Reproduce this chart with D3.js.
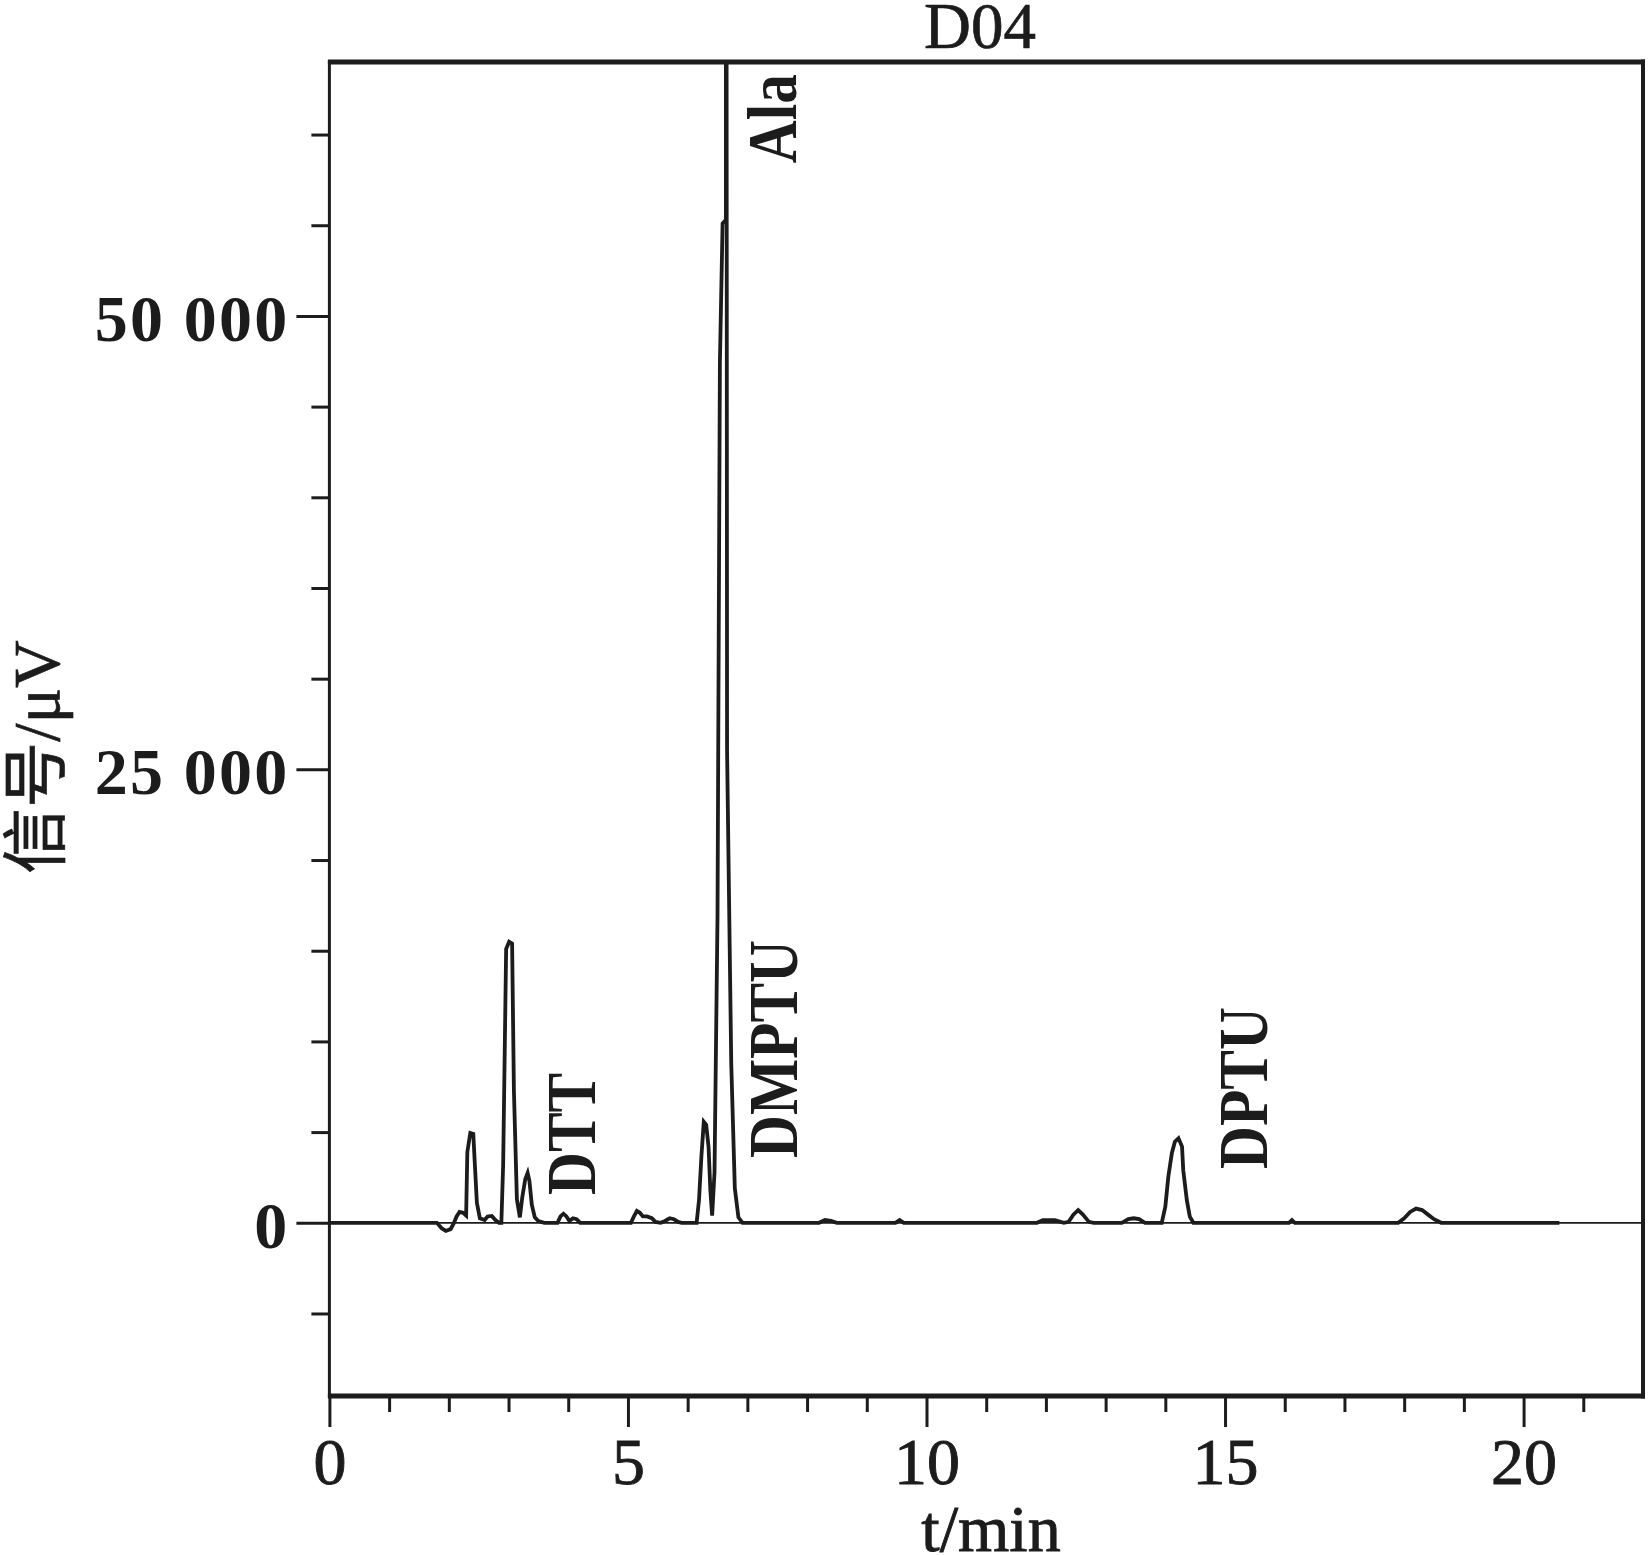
<!DOCTYPE html>
<html><head><meta charset="utf-8">
<script src="https://cdn.jsdelivr.net/npm/d3@7"></script>
<style>html,body{margin:0;padding:0;background:#fff}svg{display:block}</style>
</head><body>
<svg id="c" width="1650" height="1555"></svg>
<script>
// ---- data ----
const timeMin = [0,1.80,1.88,1.95,2.03,2.08,2.13,2.18,2.24,2.29,2.31,2.36,2.41,2.43,2.47,2.52,2.60,2.65,2.72,2.78,2.84,2.88,2.91,2.96,3.01,3.06,3.09,3.14,3.19,3.23,3.28,3.32,3.35,3.39,3.44,3.50,3.60,3.82,3.87,3.92,3.97,4.02,4.08,4.14,4.20,5.05,5.10,5.15,5.20,5.25,5.32,5.40,5.46,5.55,5.62,5.70,5.77,5.84,5.90,6.15,6.19,6.23,6.27,6.31,6.35,6.38,6.41,6.45,6.50,6.54,6.585,6.64,6.643,6.66,6.73,6.79,6.85,6.92,8.20,8.30,8.40,8.50,9.48,9.55,9.62,11.85,11.95,12.15,12.30,12.38,12.46,12.54,12.62,12.72,12.80,13.27,13.38,13.47,13.56,13.66,13.94,14.00,14.05,14.11,14.16,14.22,14.28,14.30,14.36,14.41,14.47,16.07,16.12,16.17,17.90,18.00,18.10,18.20,18.30,18.40,18.50,18.62,20.60];
const signal = [0,0,-300,-450,-350,-50,350,600,550,400,3900,4950,4900,3600,1100,250,150,350,380,150,0,0,3200,15100,15500,15400,7300,1300,300,1400,2400,2750,2300,1000,300,100,0,0,350,500,350,100,250,200,0,0,350,650,550,350,350,250,50,0,100,250,200,50,0,0,1250,3640,5570,5400,4190,1800,400,2800,16900,47400,55100,55300,110000,26060,8800,1900,300,0,0,150,100,0,0,150,0,0,150,150,0,50,450,700,450,50,0,0,200,250,200,0,0,890,2540,3850,4470,4660,4200,2900,1250,340,0,0,150,0,0,250,600,780,700,450,200,0,0];

const peakNames = ["Ala","DMPTU","DTT","DPTU"];
const peakLabelTime = [7.815, 7.83, 4.448, 15.70];
const peakLabelSignal = [58420, 3570, 1530, 2965];

const xMajorTicks = [0,5,10,15,20];
const xMinorTicks = [1,2,3,4,6,7,8,9,11,12,13,14,16,17,18,19,21];
const yMajorTicks = [0,25000,50000];
const yTickLabels = ["0","25 000","50 000"];
const yMinorTicks = [-5000,5000,10000,15000,20000,30000,35000,40000,45000,55000,60000];

const chartTitle = "D04", xTitle = "t/min", yTitle = "信号/μV";

// ---- layout ----
const L = 329.4, R = 1643, T = 62, B = 1396;
const ink = "#1c1c1c";
const serif = "'Liberation Serif','Times New Roman',serif";

const x = d3.scaleLinear().domain([0,22]).range([L,R]);
const y = d3.scaleLinear().domain([-9550,64000]).range([B,T]);

const svg = d3.select("#c");
svg.append("defs").append("clipPath").attr("id","clip")
  .append("rect").attr("x",L).attr("y",T).attr("width",R-L).attr("height",B-T);

// zero line
svg.append("line").attr("x1",x(0)).attr("x2",x(22)).attr("y1",y(0)).attr("y2",y(0))
  .attr("stroke",ink).attr("stroke-width",1.8);

// trace
const pts = timeMin.map((t,i)=>[t,signal[i]]);
svg.append("path").attr("clip-path","url(#clip)")
  .attr("d", d3.line().x(d=>x(d[0])).y(d=>y(d[1]))(pts))
  .attr("fill","none").attr("stroke",ink).attr("stroke-width",3.8).attr("stroke-linejoin","miter");

// axes
function styleAxis(g){
  g.select(".domain").remove();
  g.selectAll(".tick line").attr("stroke",ink).attr("stroke-width",3);
  g.selectAll("text").attr("fill",ink).attr("font-family",serif).attr("font-size",66);
}
const gxMaj = svg.append("g").attr("transform",`translate(0,${B})`)
  .call(d3.axisBottom(x).tickValues(xMajorTicks).tickSize(31).tickPadding(10).tickFormat(d3.format("d")));
styleAxis(gxMaj);
gxMaj.selectAll("text").attr("stroke",ink).attr("stroke-width",0.9);
const gxMin = svg.append("g").attr("transform",`translate(0,${B})`)
  .call(d3.axisBottom(x).tickValues(xMinorTicks).tickSize(16).tickFormat(""));
styleAxis(gxMin);

const gyMaj = svg.append("g").attr("transform",`translate(${L},0)`)
  .call(d3.axisLeft(y).tickValues(yMajorTicks).tickSize(33).tickPadding(7).tickFormat((d,i)=>yTickLabels[i]));
styleAxis(gyMaj);
gyMaj.selectAll("text").attr("font-weight","bold").attr("dy","0.37em").attr("letter-spacing",2.2);
const gyMin = svg.append("g").attr("transform",`translate(${L},0)`)
  .call(d3.axisLeft(y).tickValues(yMinorTicks).tickSize(18).tickFormat(""));
styleAxis(gyMin);

// frame
svg.append("line").attr("x1",L).attr("x2",L).attr("y1",T-2).attr("y2",B+2).attr("stroke",ink).attr("stroke-width",3);
svg.append("line").attr("x1",L-1.5).attr("x2",R+2).attr("y1",T).attr("y2",T).attr("stroke",ink).attr("stroke-width",5);
svg.append("line").attr("x1",L-1.5).attr("x2",R+2).attr("y1",B).attr("y2",B).attr("stroke",ink).attr("stroke-width",5);
svg.append("line").attr("x1",R).attr("x2",R).attr("y1",T-2.5).attr("y2",B+2.5).attr("stroke",ink).attr("stroke-width",4);

// titles
svg.append("text").attr("x",980).attr("y",48).attr("text-anchor","middle")
  .attr("font-family",serif).attr("font-size",65).attr("fill",ink)
  .attr("stroke",ink).attr("stroke-width",0.7).text(chartTitle);
svg.append("text").attr("x",991).attr("y",1551).attr("text-anchor","middle")
  .attr("font-family",serif).attr("font-size",66).attr("fill",ink)
  .attr("stroke",ink).attr("stroke-width",0.9).text(xTitle);
svg.append("text").attr("transform","translate(59,757) rotate(-90)").attr("text-anchor","middle")
  .attr("font-family","'Liberation Serif','Noto Sans CJK SC',serif").attr("font-size",66).attr("fill",ink)
  .attr("stroke",ink).attr("stroke-width",0.7).text(yTitle);

// peak labels
peakNames.forEach((n,i)=>{
  svg.append("text")
    .attr("transform",`translate(${x(peakLabelTime[i])},${y(peakLabelSignal[i])}) rotate(-90) scale(0.85,1)`)
    .attr("font-family",serif).attr("font-size",70).attr("font-weight","bold").attr("fill",ink).text(n);
});
</script>
</body></html>
